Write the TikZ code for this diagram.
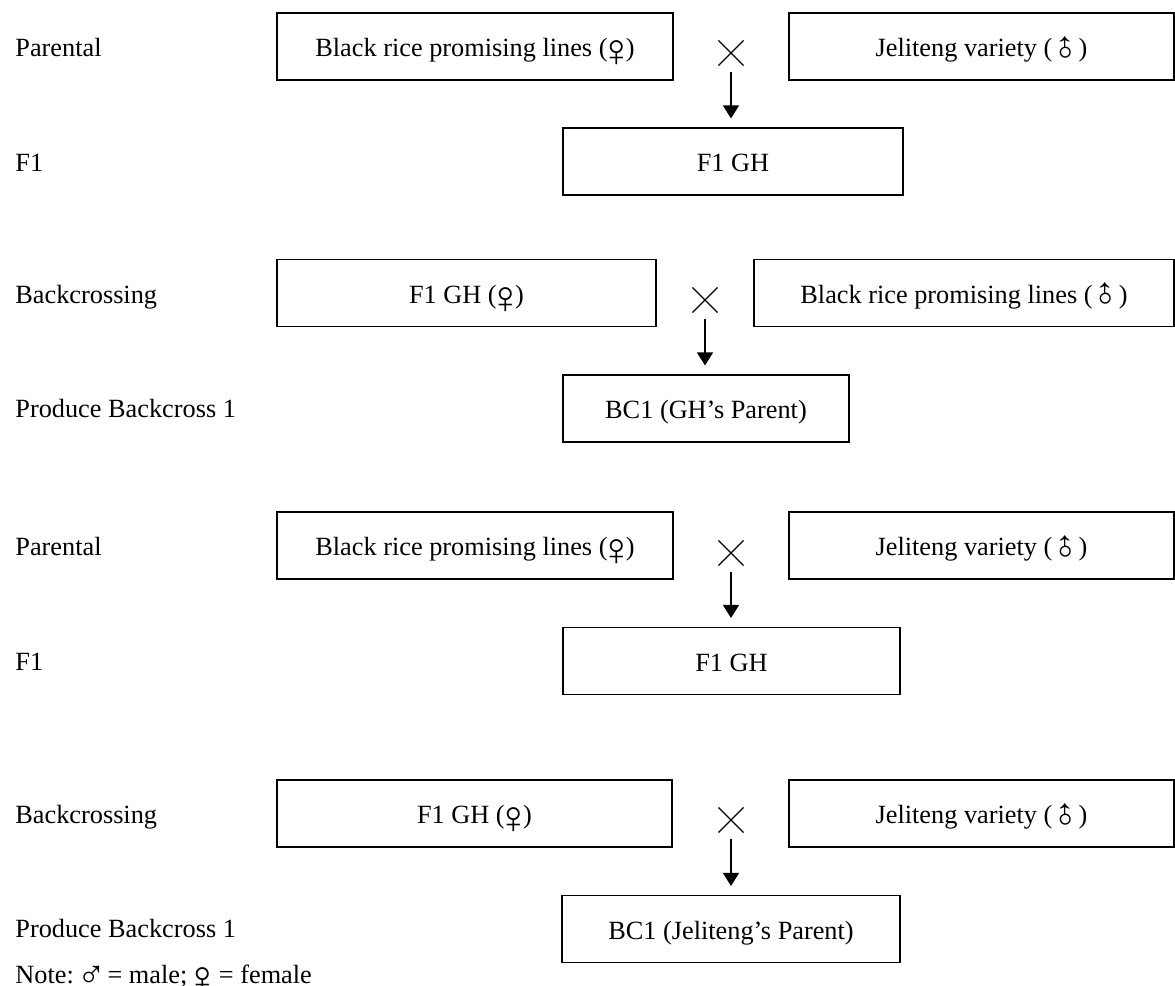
\documentclass[tikz,border=0pt]{standalone}
\usepackage{fontspec}
\setmainfont{Liberation Serif}
\usetikzlibrary{arrows.meta,shapes.misc}
\newcommand{\fem}{\makebox[0.7em]{\raisebox{-5pt}{\scalebox{1.75}{♀}}}}
\newcommand{\mal}{\makebox[1em]{\hspace{1.5pt}\raisebox{-2.25pt}{\scalebox{1.5}{\rotatebox[origin=c]{45}{♂}}}}}
\newcommand{\malnote}{\makebox[0.7em]{\raisebox{-2pt}{\scalebox{1.45}{♂}}}}

\begin{document}
\begin{tikzpicture}[x=0.5pt,y=-0.5pt,font=\fontsize{13.15}{15}\selectfont,
    stage/.style={draw,line width=0.55pt,minimum height=33.5pt,inner sep=0pt,
      text height=11.5pt,text depth=1.5pt},
    lbl/.style={anchor=base west,inner sep=0pt},
    crossmark/.style={cross out,draw,line width=0.55pt,minimum size=12pt,inner sep=0pt},
    arr/.style={-{Triangle[width=8pt,length=6.5pt]},line width=0.6pt,
      shorten <=3pt,shorten >=4.5pt}]
    \useasboundingbox (0,0) rectangle (1175,986);

    % first cross
    \node[lbl] (par1) at (15,56) {Parental};
    \node[lbl] (fone1) at (15,171) {F1};
    \node[stage,minimum width=198pt] (fem1) at (475,46.5) {Black rice promising lines (\fem)};
    \node[stage,minimum width=192.5pt] (mal1) at (981.5,46.5) {Jeliteng variety (\mal)};
    \node[crossmark] (x1) at (731,53) {};
    \node[stage,minimum width=170pt] (gh1) at (733,161.5) {F1 GH};
    \draw[arr] (x1.south) -- (x1.south |- gh1.north);

    % backcross to the black rice lines
    \node[lbl] (bx2) at (15,303) {Backcrossing};
    \node[lbl] (prod2) at (15,417) {Produce Backcross 1};
    \node[stage,minimum width=189.5pt] (fem2) at (466.5,293) {F1 GH (\fem)};
    \node[stage,minimum width=210pt] (mal2) at (964,293) {Black rice promising lines (\mal)};
    \node[crossmark] (x2) at (705,300) {};
    \node[stage,minimum width=143pt] (bc2) at (706,408.5) {BC1 (GH’s Parent)};
    \draw[arr] (x2.south) -- (x2.south |- bc2.north);

    % second cross
    \node[lbl] (par3) at (15,555) {Parental};
    \node[lbl] (fone3) at (15,670) {F1};
    \node[stage,minimum width=198pt] (fem3) at (475,545.5) {Black rice promising lines (\fem)};
    \node[stage,minimum width=192.5pt] (mal3) at (981.5,545.5) {Jeliteng variety (\mal)};
    \node[crossmark] (x3) at (731,553) {};
    \node[stage,minimum width=168.5pt] (gh3) at (731.5,661) {F1 GH};
    \draw[arr] (x3.south) -- (x3.south |- gh3.north);

    % backcross to Jeliteng
    \node[lbl] (bx4) at (15,823) {Backcrossing};
    \node[lbl] (prod4) at (15,937) {Produce Backcross 1};
    \node[stage,minimum width=197.5pt] (fem4) at (474.5,813.5) {F1 GH (\fem)};
    \node[stage,minimum width=192.5pt] (mal4) at (981.5,813.5) {Jeliteng variety (\mal)};
    \node[crossmark] (x4) at (731,820) {};
    \node[stage,minimum width=169pt] (bc4) at (731,929) {BC1 (Jeliteng’s Parent)};
    \draw[arr] (x4.south) -- (x4.south |- bc4.north);

    \node[lbl] (note) at (15,983) {Note: \malnote{} = male; \fem{} = female};
\end{tikzpicture}
\end{document}
